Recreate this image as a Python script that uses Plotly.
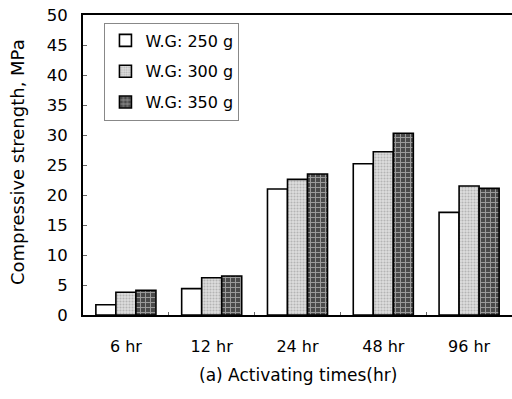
import plotly.graph_objects as go

categories = ["6 hr", "12 hr", "24 hr", "48 hr", "96 hr"]
wg250 = [1.7, 4.4, 21.0, 25.2, 17.1]
wg300 = [3.8, 6.2, 22.6, 27.2, 21.5]
wg350 = [4.1, 6.5, 23.5, 30.3, 21.1]
names = ["W.G: 250 g", "W.G: 300 g", "W.G: 350 g"]

FONT = "DejaVu Sans, Liberation Sans, Arial, sans-serif"

fig = go.Figure()
fig.add_trace(go.Bar(x=categories, y=wg250, name=names[0], legendgroup="a",
                     marker=dict(color="white", line=dict(color="black", width=1.6))))
fig.add_trace(go.Bar(x=categories, y=wg300, name=names[1], legendgroup="b",
                     marker=dict(color="#d4d4d4", line=dict(color="black", width=1.6),
                                 pattern=dict(shape=".", fgcolor="#8a8a8a", bgcolor="#dedede",
                                              size=3, solidity=0.4))))
fig.add_trace(go.Bar(x=categories, y=wg350, name=names[2], legendgroup="c",
                     marker=dict(color="#555555", line=dict(color="black", width=1.6),
                                 pattern=dict(shape="+", fgcolor="#eeeeee", bgcolor="#4a4a4a",
                                              size=5, solidity=0.35))))

fig.update_layout(
    width=512, height=399,
    margin=dict(l=83, r=0, t=15, b=84),
    plot_bgcolor="white", paper_bgcolor="white",
    barmode="group", bargap=0.3, bargroupgap=0,
    font=dict(family=FONT, color="black", size=16),
    legend=dict(x=0.05, y=0.975, xanchor="left", yanchor="top",
                bordercolor="#888888", borderwidth=1, bgcolor="white",
                font=dict(size=16), itemwidth=30, traceorder="grouped",
                tracegroupgap=7),
    showlegend=True,
    annotations=[
        dict(text="Compressive strength, MPa", xref="paper", yref="paper",
             x=0, y=0.51, xanchor="center", yanchor="middle", xshift=-66,
             textangle=-90, showarrow=False, font=dict(size=18, family=FONT)),
        dict(text="(a) Activating times(hr)", xref="paper", yref="paper",
             x=0.5, y=0, xanchor="center", yanchor="middle", yshift=-60,
             showarrow=False, font=dict(size=17, family=FONT)),
    ],
)
fig.update_xaxes(showline=True, linecolor="black", linewidth=2, mirror=True,
                 automargin=False, ticks="inside", tickson="boundaries", ticklen=3,
                 tickcolor="#666666", tickfont=dict(size=16), ticklabelstandoff=16,
                 ticklabeloverflow="allow")
fig.update_yaxes(range=[0, 50], dtick=5, showline=True, linecolor="black", linewidth=2,
                 automargin=False, showgrid=False, zeroline=False, ticks="inside",
                 ticklen=4, tickcolor="#666666", tickfont=dict(size=16.5),
                 ticklabelstandoff=10, ticklabeloverflow="allow")

fig.write_html("out.html", config={"displayModeBar": False},
               post_script="document.body.style.margin='0px';")
